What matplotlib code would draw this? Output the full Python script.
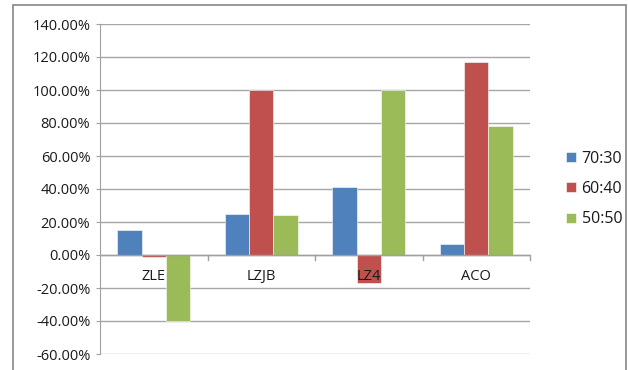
import matplotlib.pyplot as plt
import numpy as np
from matplotlib.patches import Rectangle
from matplotlib.ticker import FuncFormatter

categories = ['ZLE', 'LZJB', 'LZ4', 'ACO']
series = ['70:30', '60:40', '50:50']
ratio_70_30 = [15.0, 25.0, 41.0, 6.5]
ratio_60_40 = [-1.0, 100.0, -17.0, 117.0]
ratio_50_50 = [-40.0, 24.0, 100.0, 78.0]
colors = ['#4F81BD', '#C0504D', '#9BBB59']

plt.rcParams['font.family'] = ['Open Sans', 'DejaVu Sans']

fig = plt.figure(figsize=(6.28, 3.70), dpi=100)
ax = fig.add_axes([100 / 628, 1 - 354 / 370, 430 / 628, 330 / 370])

x = np.arange(len(categories))
w = 0.225
for i, (vals, name) in enumerate(zip([ratio_70_30, ratio_60_40, ratio_50_50], series)):
    ax.bar(x + (i - 1) * w, vals, width=w, color=colors[i], label=name, zorder=3,
           edgecolor='white', linewidth=0.4)

ax.set_xlim(-0.5, len(categories) - 0.5)
ax.set_ylim(-60, 140)
ax.set_yticks(np.arange(-60, 141, 20))
ax.yaxis.set_major_formatter(FuncFormatter(lambda v, _: f'{v:.2f}%'))
ax.tick_params(axis='y', labelsize=10.5, length=3, color='#A0A0A0', pad=4, labelcolor='#1a1a1a')
ax.set_xticks([])
ax.grid(axis='y', color='#A6A6A6', linewidth=1, zorder=0)
for s in ['top', 'right', 'bottom']:
    ax.spines[s].set_visible(False)
ax.spines['left'].set_color('#A0A0A0')

# category axis along zero, with tick marks between groups
ax.axhline(0, color='#A0A0A0', linewidth=1, zorder=4)
for b in np.arange(0.5, len(categories), 1.0):
    ax.plot([b, b], [0, -3], color='#A0A0A0', linewidth=1, zorder=4, clip_on=False)
for xi, name in zip(x, categories):
    ax.text(xi, -13, name, ha='center', va='center', fontsize=10.5, color='#1a1a1a', zorder=5)

leg = ax.legend(loc='center left', bbox_to_anchor=(552 / 628, 1 - 189 / 370), bbox_transform=fig.transFigure,
                frameon=False, fontsize=11.5, handlelength=0.6, handleheight=0.6, handletextpad=0.35,
                labelspacing=0.9)
for t in leg.get_texts():
    t.set_color('#1a1a1a')

fig.patches.append(Rectangle((13 / 628, -0.02), 613 / 628, 1.0 - 5 / 370 + 0.02, transform=fig.transFigure,
                             fill=False, edgecolor='#868686', linewidth=1.2))

fig.savefig('out.png', dpi=100)
